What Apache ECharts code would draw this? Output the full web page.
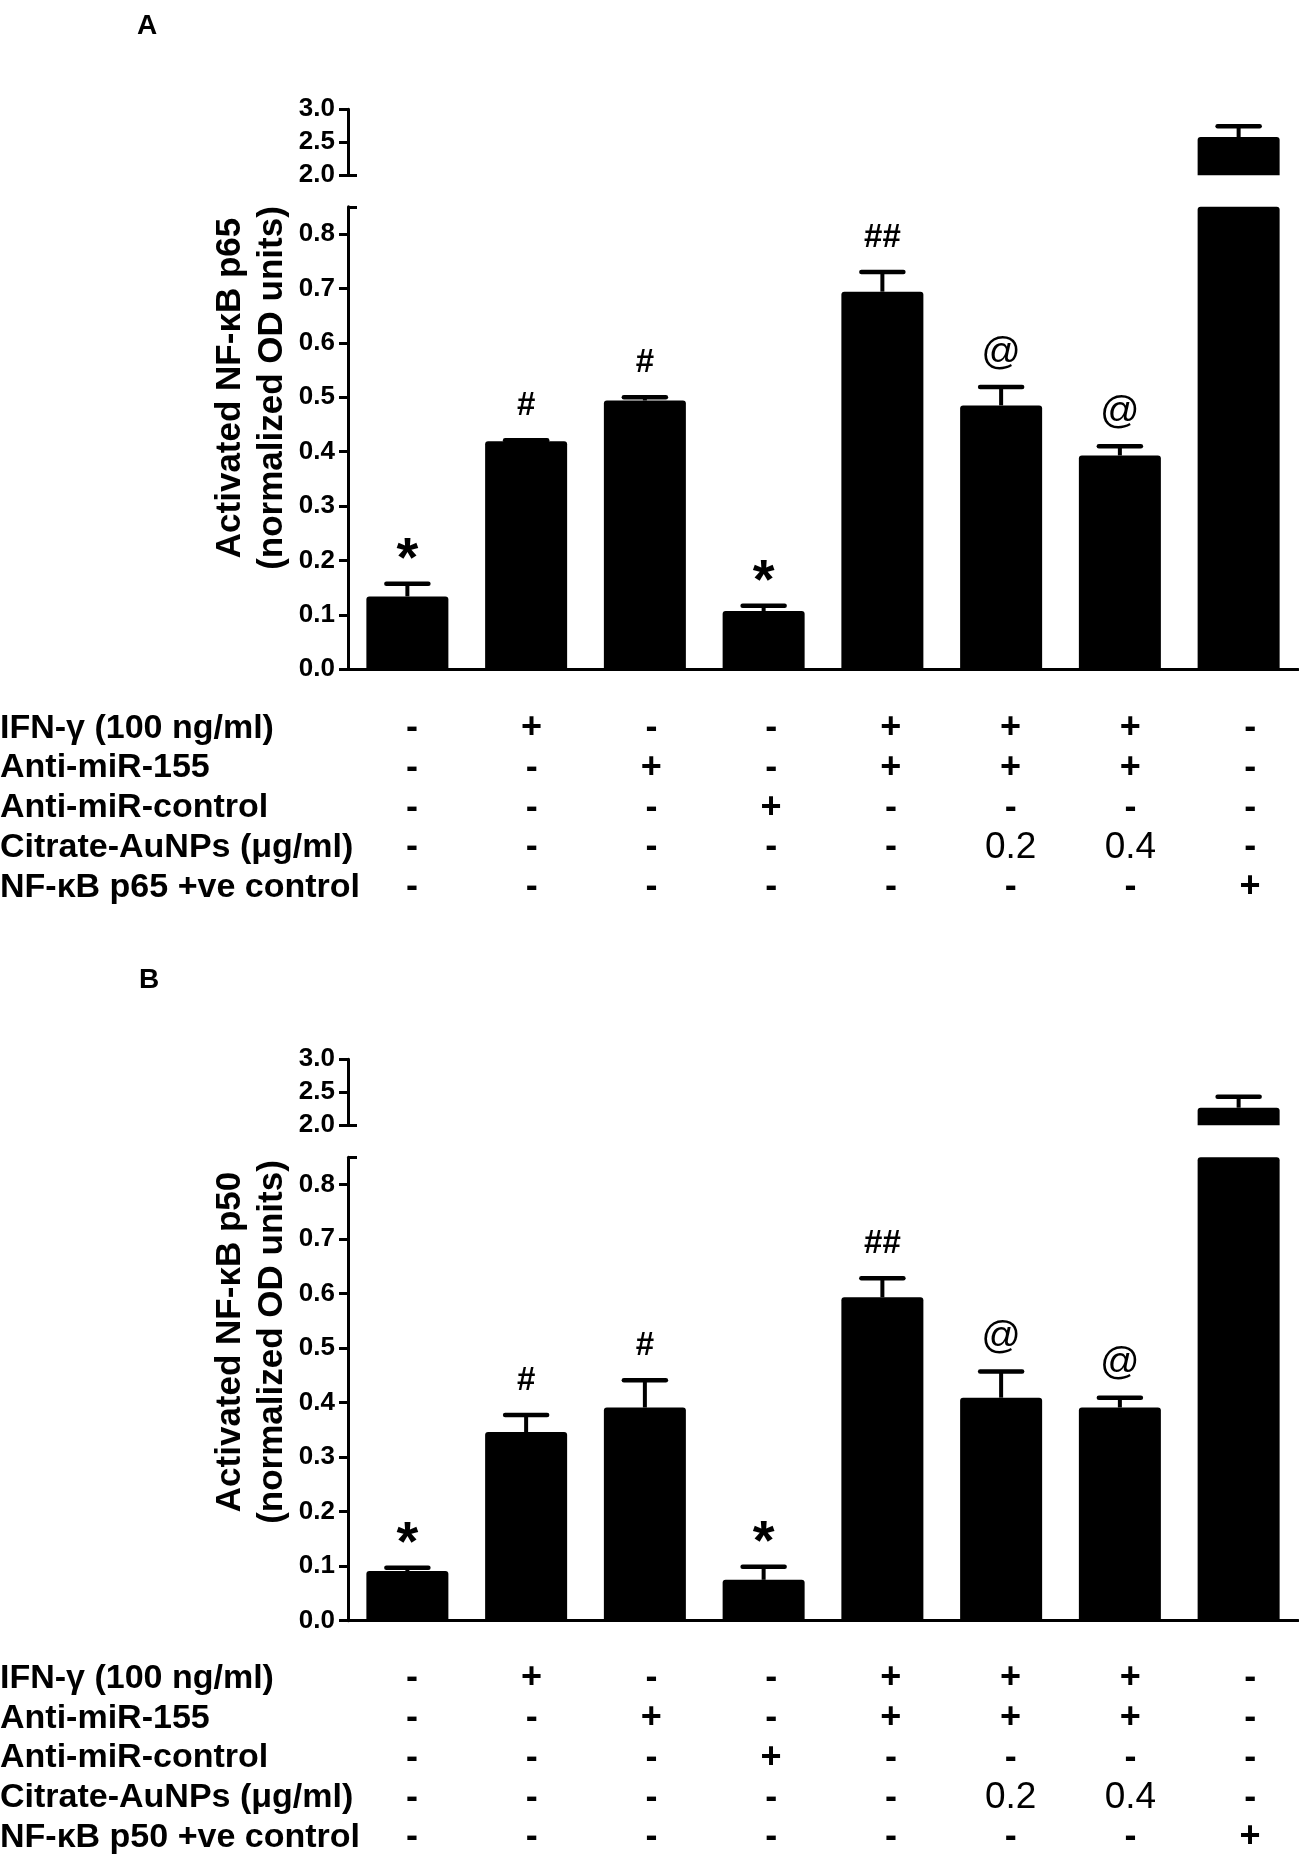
<!DOCTYPE html>
<html>
<head>
<meta charset="utf-8">
<script src="https://cdn.jsdelivr.net/npm/echarts@6/dist/echarts.min.js"></script>
<style>
  html, body { margin: 0; padding: 0; background: #fff; }
  #main { width: 1299px; height: 1855px; }
</style>
</head>
<body>
<div id="main"></div>
<script>
// treatment groups (columns of the table under each panel)
var groups = ['1', '2', '3', '4', '5', '6', '7', '8'];

// panel A: NF-kB p65
var p65Mean = [0.134, 0.419, 0.494, 0.107, 0.694, 0.485, 0.393, 2.58];
var p65Sem = [0.023, 0.002, 0.006, 0.010, 0.036, 0.034, 0.017, 0.165];
var p65Marks = ['*', '#', '#', '*', '##', '@', '@', ''];

// panel B: NF-kB p50
var p50Mean = [0.091, 0.346, 0.391, 0.075, 0.593, 0.409, 0.391, 2.265];
var p50Sem = [0.006, 0.031, 0.050, 0.024, 0.035, 0.048, 0.018, 0.165];
var p50Marks = ['*', '#', '#', '*', '##', '@', '@', ''];

// treatment table
var ifnRow = ['-', '+', '-', '-', '+', '+', '+', '-'];
var anti155Row = ['-', '-', '+', '-', '+', '+', '+', '-'];
var antiCtrlRow = ['-', '-', '-', '+', '-', '-', '-', '-'];
var auNpRow = ['-', '-', '-', '-', '-', '0.2', '0.4', '-'];
var posCtrlRow = ['-', '-', '-', '-', '-', '-', '-', '+'];
var tableRows = [ifnRow, anti155Row, antiCtrlRow, auNpRow, posCtrlRow];

var rowNamesA = ['IFN-γ (100 ng/ml)', 'Anti-miR-155', 'Anti-miR-control', 'Citrate-AuNPs (μg/ml)', 'NF-κB p65 +ve control'];
var rowNamesB = ['IFN-γ (100 ng/ml)', 'Anti-miR-155', 'Anti-miR-control', 'Citrate-AuNPs (μg/ml)', 'NF-κB p50 +ve control'];

// axis ticks (broken y axis)
var highTicks = [2.0, 2.5, 3.0];
var lowTicks = [0, 0.1, 0.2, 0.3, 0.4, 0.5, 0.6, 0.7, 0.8];
var lowMax = 0.85;

var FONT = '"Liberation Sans", Arial, sans-serif';
var LINE_H = 39.75;

var chart = echarts.init(document.getElementById('main'));
var option = {
    animation: false,
    backgroundColor: '#fff',
    title: [],
    graphic: [],
    grid: [],
    xAxis: [],
    yAxis: [],
    series: []
};

function tickLabel(v) {
    return v.toFixed(1);
}

function markFont(mk) {
    if (mk === '*') return 'bold 56px ' + FONT;
    if (mk === '@') return '39px ' + FONT;
    return 'bold 33px ' + FONT;
}

function errRender(marks) {
    return function (params, api) {
        var i = api.value(0), m = api.value(1), e = api.value(2);
        var base = api.coord([i, m]);
        var top = api.coord([i, m + e]);
        var children = [{
            type: 'line',
            shape: { x1: base[0], y1: base[1], x2: base[0], y2: top[1] },
            style: { stroke: '#000', lineWidth: 4 }
        }, {
            type: 'line',
            shape: { x1: base[0] - 21, y1: top[1], x2: base[0] + 21, y2: top[1] },
            style: { stroke: '#000', lineWidth: 4.5, lineCap: 'round' }
        }];
        var mk = marks[i];
        if (mk) {
            children.push({
                type: 'text',
                x: base[0],
                y: top[1] - 34 + (mk === '*' ? 11 : 0),
                style: {
                    text: mk,
                    fill: '#000',
                    align: 'center',
                    verticalAlign: 'middle',
                    font: markFont(mk)
                }
            });
        }
        return { type: 'group', children: children };
    };
}

function addPanel(p) {
    var g0 = option.grid.length;
    var x0 = option.xAxis.length;
    var y0 = option.yAxis.length;

    option.grid.push({ left: 348, width: 950, top: p.upperTop, height: 66, outerBoundsMode: 'none' });
    option.grid.push({ left: 348, width: 950, top: p.lowerTop, height: p.lowerHeight, outerBoundsMode: 'none' });
    option.grid.push({ left: 352, width: 958, top: p.tableTop, height: 1, outerBoundsMode: 'none' });

    option.xAxis.push({ gridIndex: g0, type: 'category', data: groups, show: false });
    option.xAxis.push({
        gridIndex: g0 + 1, type: 'category', data: groups,
        axisLine: { lineStyle: { color: '#000', width: 3 } },
        axisTick: { alignWithLabel: true, length: 12, lineStyle: { color: '#000', width: 2.5 } },
        axisLabel: { show: false }
    });
    option.xAxis.push({
        gridIndex: g0 + 2, type: 'category', data: groups,
        axisLine: { show: false },
        axisTick: { show: false },
        axisLabel: {
            interval: 0,
            margin: p.tableMargin,
            lineHeight: LINE_H,
            formatter: function (v, idx) {
                return tableRows.map(function (r) {
                    var c = r[idx];
                    return (c === '+' || c === '-') ? '{s|' + c + '}' : '{n|' + c + '}';
                }).join('\n');
            },
            rich: {
                s: { fontFamily: FONT, fontSize: 36, fontWeight: 'bold', color: '#000', lineHeight: LINE_H },
                n: { fontFamily: FONT, fontSize: 37, fontWeight: 'normal', color: '#000', lineHeight: LINE_H }
            }
        }
    });

    var axisStyle = { color: '#000', width: 3 };
    var labelStyle = { color: '#000', fontFamily: FONT, fontSize: 26, fontWeight: 'bold', margin: 13, formatter: tickLabel };

    // upper segment 2.0 - 3.0
    option.yAxis.push({
        gridIndex: g0, type: 'value', position: 'left',
        min: highTicks[0], max: highTicks[highTicks.length - 1], interval: 0.5,
        axisLine: { show: true, lineStyle: axisStyle },
        axisTick: { show: true, length: 9, lineStyle: axisStyle },
        axisLabel: labelStyle,
        splitLine: { show: false }
    });
    option.yAxis.push({
        gridIndex: g0, type: 'value', position: 'left',
        min: highTicks[0], max: highTicks[highTicks.length - 1],
        axisLine: { show: false },
        axisTick: { show: true, inside: true, length: 9, lineStyle: axisStyle, customValues: [highTicks[0]] },
        axisLabel: { show: false },
        splitLine: { show: false }
    });
    // lower segment 0 - 0.85
    option.yAxis.push({
        gridIndex: g0 + 1, type: 'value', position: 'left', min: 0, max: lowMax, interval: 0.1,
        axisLine: { show: true, lineStyle: axisStyle },
        axisTick: { show: true, length: 9, lineStyle: axisStyle, customValues: lowTicks },
        axisLabel: Object.assign({ customValues: lowTicks }, labelStyle),
        splitLine: { show: false }
    });
    option.yAxis.push({
        gridIndex: g0 + 1, type: 'value', position: 'left', min: 0, max: lowMax,
        axisLine: { show: false },
        axisTick: { show: true, inside: true, length: 9, lineStyle: axisStyle, customValues: [lowMax] },
        axisLabel: { show: false },
        splitLine: { show: false }
    });
    option.yAxis.push({ gridIndex: g0 + 2, type: 'value', show: false });

    var barStyle = { color: '#000', borderRadius: [3, 3, 0, 0] };
    option.series.push({
        type: 'bar', xAxisIndex: x0, yAxisIndex: y0, barWidth: 82, clip: true, silent: true,
        itemStyle: barStyle,
        data: p.mean.map(function (v) { return v >= highTicks[0] ? v : null; })
    });
    option.series.push({
        type: 'bar', xAxisIndex: x0 + 1, yAxisIndex: y0 + 2, barWidth: 82, clip: true, silent: true,
        itemStyle: barStyle,
        data: p.mean
    });

    var hi = [], lo = [];
    p.mean.forEach(function (v, i) {
        (v >= highTicks[0] ? hi : lo).push([i, v, p.sem[i]]);
    });
    option.series.push({
        type: 'custom', xAxisIndex: x0, yAxisIndex: y0, silent: true,
        encode: { x: 0, y: 1 }, renderItem: errRender(p.marks), data: hi
    });
    option.series.push({
        type: 'custom', xAxisIndex: x0 + 1, yAxisIndex: y0 + 2, silent: true,
        encode: { x: 0, y: 1 }, renderItem: errRender(p.marks), data: lo
    });

    option.title.push({
        text: p.rowNames.join('\n'),
        left: 0, top: p.rowTop, padding: 0,
        textStyle: { fontFamily: FONT, fontSize: 34, fontWeight: 'bold', color: '#000', lineHeight: LINE_H }
    });

    option.graphic.push({
        type: 'text', x: p.letterX, y: p.letterY,
        style: { text: p.letter, fill: '#000', font: 'bold 28px ' + FONT, align: 'left', verticalAlign: 'middle' }
    });
    option.graphic.push({
        type: 'text', x: 251, y: p.nameY, rotation: Math.PI / 2,
        style: {
            text: p.yName, fill: '#000', font: 'bold 35px ' + FONT,
            align: 'center', verticalAlign: 'middle', lineHeight: 42
        }
    });
}

addPanel({
    letter: 'A', letterX: 137, letterY: 26,
    upperTop: 109.3, lowerTop: 206.8, lowerHeight: 462.5,
    tableTop: 669, tableMargin: 38.4, rowTop: 708.4, nameY: 388,
    mean: p65Mean, sem: p65Sem, marks: p65Marks, rowNames: rowNamesA,
    yName: 'Activated NF-κB p65\n(normalized OD units)'
});
addPanel({
    letter: 'B', letterX: 139, letterY: 980,
    upperTop: 1059.2, lowerTop: 1157.2, lowerHeight: 463.5,
    tableTop: 1620, tableMargin: 37.7, rowTop: 1658.7, nameY: 1342,
    mean: p50Mean, sem: p50Sem, marks: p50Marks, rowNames: rowNamesB,
    yName: 'Activated NF-κB p50\n(normalized OD units)'
});

chart.setOption(option);
</script>
</body>
</html>
